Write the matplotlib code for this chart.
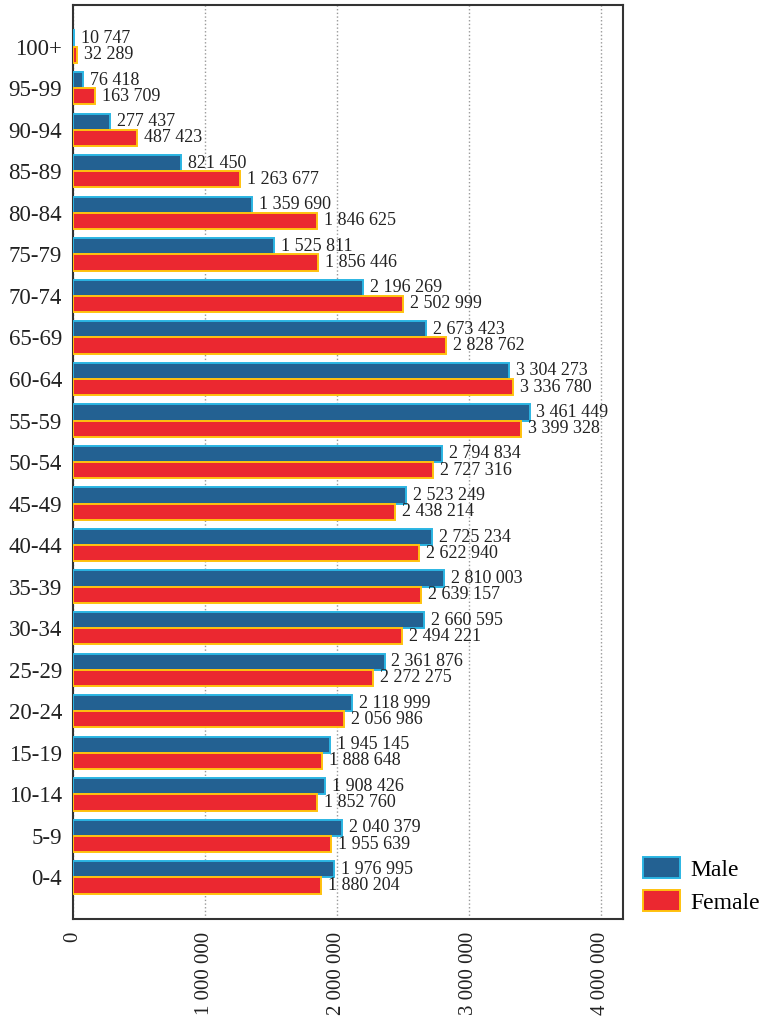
import numpy as np
import matplotlib
matplotlib.use('Agg')
import matplotlib.pyplot as plt
from matplotlib.patches import Patch

# Age groups, bottom to top
age_groups = ['0-4', '5-9', '10-14', '15-19', '20-24', '25-29', '30-34', '35-39',
              '40-44', '45-49', '50-54', '55-59', '60-64', '65-69', '70-74', '75-79',
              '80-84', '85-89', '90-94', '95-99', '100+']
male = [1976995, 2040379, 1908426, 1945145, 2118999, 2361876, 2660595, 2810003,
        2725234, 2523249, 2794834, 3461449, 3304273, 2673423, 2196269, 1525811,
        1359690, 821450, 277437, 76418, 10747]
female = [1880204, 1955639, 1852760, 1888648, 2056986, 2272275, 2494221, 2639157,
          2622940, 2438214, 2727316, 3399328, 3336780, 2828762, 2502999, 1856446,
          1846625, 1263677, 487423, 163709, 32289]
x_ticks = [0, 1000000, 2000000, 3000000, 4000000]

plt.rcParams['font.family'] = ['Liberation Serif', 'DejaVu Serif']


def fmt(v):
    return f'{v:,}'.replace(',', ' ')


fig = plt.figure(figsize=(7.59, 10.21), dpi=100)
ax = fig.add_axes([0.0962, 0.0999, 0.7246, 0.8951])

y = np.arange(len(age_groups))
h = 0.39
male_color, male_edge = '#236192', '#2bb5e3'
female_color, female_edge = '#eb2830', '#ffc20e'

ax.barh(y + h / 2, male, height=h, color=male_color, edgecolor=male_edge, linewidth=1.4, zorder=3)
ax.barh(y - h / 2, female, height=h, color=female_color, edgecolor=female_edge, linewidth=1.4, zorder=3)

for yi, m, f in zip(y, male, female):
    ax.annotate(fmt(m), (m, yi + h / 2), xytext=(5, 0), textcoords='offset points',
                va='center', ha='left', fontsize=13, color='#222222')
    ax.annotate(fmt(f), (f, yi - h / 2), xytext=(5, 0), textcoords='offset points',
                va='center', ha='left', fontsize=13, color='#222222')

ax.set_xlim(0, 4170000)
ax.set_ylim(-1, 21)
ax.set_yticks(y)
ax.set_yticklabels(age_groups, fontsize=16.5, color='#222222')
ax.set_xticks(x_ticks)
ax.set_xticklabels([fmt(t) for t in x_ticks], rotation=90, fontsize=15, color='#222222',
                   va='top', ha='center')
ax.tick_params(axis='both', length=0)
ax.tick_params(axis='x', pad=9)
ax.tick_params(axis='y', pad=8)

ax.xaxis.grid(True, linestyle=':', color='#999999', linewidth=1, zorder=0)
for s in ax.spines.values():
    s.set_color('#333333')
    s.set_linewidth(1.5)

handles = [Patch(facecolor=male_color, edgecolor=male_edge, linewidth=1.4, label='Male'),
           Patch(facecolor=female_color, edgecolor=female_edge, linewidth=1.4, label='Female')]
fig.legend(handles=handles, loc='lower left', bbox_to_anchor=(0.847, 0.105), frameon=False,
           fontsize=17, handlelength=1.57, handleheight=1.0, handletextpad=0.45, labelspacing=0.4,
           borderaxespad=0, borderpad=0)

fig.savefig('out.png', dpi=100)
